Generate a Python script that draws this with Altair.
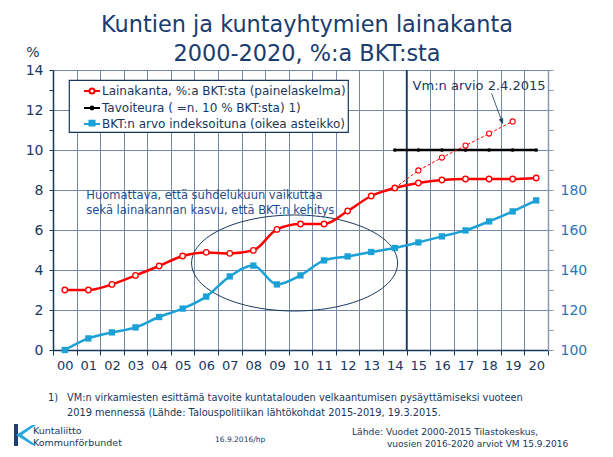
import altair as alt
import pandas as pd

# ---------------- data ----------------
years = [f"{i:02d}" for i in range(21)]
laina = [3.0, 3.0, 3.28, 3.73, 4.2, 4.7, 4.88, 4.83, 4.98, 6.03, 6.3,
         6.3, 6.95, 7.7, 8.1, 8.35, 8.5, 8.55, 8.55, 8.55, 8.6]
arvio_years = ["14", "15", "16", "17", "18", "19"]
arvio = [8.1, 8.98, 9.62, 10.22, 10.82, 11.43]
tavoite_years = ["14", "15", "16", "17", "18", "19", "20"]
tavoite = [10, 10, 10, 10, 10, 10, 10]
bkt = [100, 105.8, 108.8, 111.3, 116.5, 120.7, 126.7, 136.8, 142.2, 132.8, 137.3,
       144.8, 146.8, 149, 151, 153.8, 156.8, 159.8, 164.3, 169.3, 174.8]

series_names = [
    "Lainakanta, %:a BKT:sta (painelaskelma)",
    "Tavoiteura ( =n. 10 % BKT:sta) 1)",
    "BKT:n arvo indeksoituna (oikea asteikko)",
]
title_text = "Kuntien ja kuntayhtymien lainakanta\n2000-2020, %:a BKT:sta"
note_text = "Huomattava, että suhdelukuun vaikuttaa\nsekä lainakannan kasvu, että BKT:n kehitys"
arvio_label = "Vm:n arvio 2.4.2015"
footnote = ("VM:n virkamiesten esittämä tavoite kuntatalouden velkaantumisen pysäyttämiseksi vuoteen\n"
            "2019 mennessä (Lähde: Talouspolitiikan lähtökohdat 2015-2019, 19.3.2015.")
source_text = "Lähde: Vuodet 2000-2015 Tilastokeskus,"
source_text2 = "vuosien 2016-2020 arviot VM 15.9.2016"
logo_text = "Kuntaliitto\nKommunförbundet"
date_text = "16.9.2016/hp"

# ---------------- styles ----------------
FONT = "DejaVu Sans"
NAVY = "#17375e"
RED = "#ff0000"
BLUE = "#1ba1d6"
BLUE_LABEL = "#2e75b6"
GRID = "#7489aa"
RAXIS = "#8a99b3"

df_laina = pd.DataFrame({"year": years, "v": laina})
df_arvio = pd.DataFrame({"year": arvio_years, "v": arvio})
df_tav = pd.DataFrame({"year": tavoite_years, "v": tavoite})
df_bkt = pd.DataFrame({"year": years, "b": bkt})

x_scale = alt.Scale(type="band", domain=years, paddingInner=0, paddingOuter=0)
x_axis = alt.Axis(title=None, tickBand="extent", grid=True, gridColor=GRID, gridWidth=1,
                  labelColor=NAVY, labelFont=FONT, labelFontSize=13, labelAngle=0,
                  labelPadding=4, tickSize=5, tickColor=NAVY, domainColor=NAVY, domainWidth=1.5)
X = alt.X("year:O", scale=x_scale, axis=x_axis)

y_scale = alt.Scale(domain=[0, 14], nice=False, zero=False)
y_axis = alt.Axis(title=None, values=list(range(15)),
                  labelExpr="datum.value % 2 == 0 ? datum.label : ''",
                  grid=True, gridColor=GRID, gridWidth=1,
                  gridOpacity={"condition": {"test": "datum.value % 2 == 0", "value": 1}, "value": 0},
                  labelColor=NAVY, labelFont=FONT, labelFontSize=14, labelPadding=6,
                  tickSize=4, tickColor=NAVY, domainColor=NAVY, domainWidth=1.5)
Y = alt.Y("v:Q", scale=y_scale, axis=y_axis)

# ---------------- left-axis layers ----------------
red_line = alt.Chart(df_laina).mark_line(color=RED, strokeWidth=2.5, interpolate="monotone").encode(x=X, y=Y)
red_pts = alt.Chart(df_laina).mark_point(shape="circle", size=30, filled=True, fill="white",
                                         stroke=RED, strokeWidth=1.3, opacity=1).encode(x=X, y=Y)
arvio_line = alt.Chart(df_arvio).mark_line(color=RED, strokeWidth=1, strokeDash=[3, 2]).encode(x=X, y=Y)
arvio_pts = alt.Chart(df_arvio).mark_point(shape="circle", size=26, filled=True, fill="white",
                                           stroke=RED, strokeWidth=1.1, opacity=1).encode(x=X, y=Y)
tav_line = alt.Chart(df_tav).mark_line(color="black", strokeWidth=2.5).encode(x=X, y=Y)
tav_pts = alt.Chart(df_tav).mark_point(shape="circle", size=14, filled=True, color="black",
                                       opacity=1).encode(x=X, y=Y)

df_vline = pd.DataFrame({"year": ["15"], "v": [0], "v2": [14]})
vline = alt.Chart(df_vline).mark_rule(color=NAVY, strokeWidth=1.5).encode(
    x=alt.X("year:O", scale=x_scale, axis=x_axis, bandPosition=0),
    y=Y, y2="v2:Q")

df_ell = pd.DataFrame({"year": ["10"], "v": [4.35]})
ellipse = alt.Chart(df_ell).mark_point(
    shape="M-1,0 A1,0.466 0 1,0 1,0 A1,0.466 0 1,0 -1,0 Z",
    size=42436, filled=False, stroke=NAVY, strokeWidth=1, opacity=1).encode(
    x=alt.X("year:O", scale=x_scale, axis=x_axis, bandPosition=0.25), y=Y)

df_note = pd.DataFrame({"year": ["01"], "v": [7.715], "t": [note_text]})
note = alt.Chart(df_note).mark_text(align="left", baseline="middle", font=FONT, fontSize=11.5,
                                    color="#1f4e8c", lineBreak="\n", lineHeight=15, dx=-2).encode(
    x=X, y=Y, text="t:N")

df_arv_lbl = pd.DataFrame({"year": ["18"], "v": [13.2], "t": [arvio_label]})
arv_lbl = alt.Chart(df_arv_lbl).mark_text(align="center", baseline="middle", font=FONT, fontSize=13,
                                          color=NAVY, dx=-10).encode(x=X, y=Y, text="t:N")

df_arrow = pd.DataFrame({"year": ["18"], "v": [12.085]})
arrow = alt.Chart(df_arrow).mark_point(
    shape="M-0.367,-1L0.367,1M0.367,1L0.150,0.759L0.376,0.677Z",
    size=900, filled=True, fill=NAVY, stroke=NAVY, strokeWidth=0.8, opacity=1, xOffset=8).encode(x=X, y=Y)

# legend (built from an empty point layer: only the scales feed the legend)
legend_paths = [
    "M-1,0H-0.32M0.32,0A0.32,0.32 0 1 1 -0.32,0A0.32,0.32 0 1 1 0.32,0M0.32,0H1",
    "M-1,0H1M0.18,0A0.18,0.18 0 1 1 -0.18,0A0.18,0.18 0 1 1 0.18,0",
    "M-1,0H1M-0.32,-0.4H0.32V0.2H-0.32Z",
]
df_leg = pd.DataFrame({"legend": series_names})
leg = alt.Legend(title=None, orient="none", legendX=16, legendY=10)
legend_layer = alt.Chart(df_leg).mark_point(opacity=1).encode(
    shape=alt.Shape("legend:N", scale=alt.Scale(domain=series_names, range=legend_paths), legend=leg),
    fill=alt.Fill("legend:N", scale=alt.Scale(domain=series_names, range=["white", "black", BLUE]), legend=leg),
    stroke=alt.Stroke("legend:N", scale=alt.Scale(domain=series_names, range=[RED, "black", BLUE]), legend=leg),
).transform_filter("false")

# page texts
def page_text(txt, x, y, size, color=NAVY, align="left", lh=None):
    kw = {}
    if lh:
        kw["lineHeight"] = lh
        kw["lineBreak"] = "\n"
    return alt.Chart(pd.DataFrame({"t": [txt]})).mark_text(
        align=align, baseline="middle", font=FONT, fontSize=size, color=color, **kw).encode(
        x=alt.value(x), y=alt.value(y), text="t:N")

title = page_text(title_text, 254, -45, 22.4, color="#1a3c6e", align="center", lh=29)
pct = page_text("%", -20, -17, 14, align="center")
fn_num = page_text("1)", -5, 328, 9.8)
fn = page_text(footnote, 14, 328, 9.8, lh=15)
src1 = page_text(source_text, 299, 362, 9.2)
src2 = page_text(source_text2, 334, 374, 9)
date = page_text(date_text, 162, 370, 7.5)
logo = page_text(logo_text, -20, 361, 9.5, lh=12)

logo_bar = alt.Chart(pd.DataFrame({"k": ["bar"]})).mark_rect(color="#1f3f73").encode(
    x=alt.value(-39), x2=alt.value(-35), y=alt.value(354), y2=alt.value(376))
logo_sw = alt.Chart(pd.DataFrame({"k": ["sw"]})).mark_point(
    shape="M-1,0 L0.6,-1 L1,-1 L-0.4,0 L1,1 L0.6,1 Z", size=400, filled=True,
    color="#28a8e0", opacity=1).encode(x=alt.value(-27), y=alt.value(365))

left = alt.layer(vline, ellipse, tav_line, tav_pts, arvio_line, arvio_pts, red_line, red_pts,
                 note, arv_lbl, arrow, legend_layer,
                 title, pct, fn_num, fn, src1, src2, date, logo, logo_bar, logo_sw)

# ---------------- right-axis layers ----------------
r_axis = alt.Axis(title=None, orient="right", values=list(range(100, 250, 10)),
                  labelExpr="datum.value <= 180 && datum.value % 20 == 0 ? datum.label : ''",
                  grid=False, labelColor=BLUE_LABEL, labelFont=FONT, labelFontSize=14,
                  labelPadding=7, tickSize=5, tickColor=RAXIS, domainColor=RAXIS, domainWidth=1.5)
YR = alt.Y("b:Q", scale=alt.Scale(domain=[100, 240], nice=False, zero=False), axis=r_axis)
blue_line = alt.Chart(df_bkt).mark_line(color=BLUE, strokeWidth=2.5, interpolate="monotone").encode(x=X, y=YR)
blue_pts = alt.Chart(df_bkt).mark_point(shape="square", size=40, filled=True, color=BLUE,
                                        opacity=1).encode(x=X, y=YR)
right = alt.layer(blue_line, blue_pts)

chart = alt.layer(left, right).resolve_scale(y="independent").properties(
    width=495, height=280,
    autosize=alt.AutoSizeParams(type="none"),
    padding={"left": 45, "top": 62, "right": 57, "bottom": 99},
).configure_view(stroke=None).configure_legend(
    strokeColor=NAVY, fillColor="white", padding=2, labelFont=FONT, labelFontSize=12,
    labelColor=NAVY, symbolSize=256, symbolStrokeWidth=2, rowPadding=1, labelLimit=400,
    labelOffset=1, strokeWidth=1.2, symbolOpacity=1, symbolOffset=12,
)

chart.save("out.html", embed_options={"renderer": "svg", "actions": False})
